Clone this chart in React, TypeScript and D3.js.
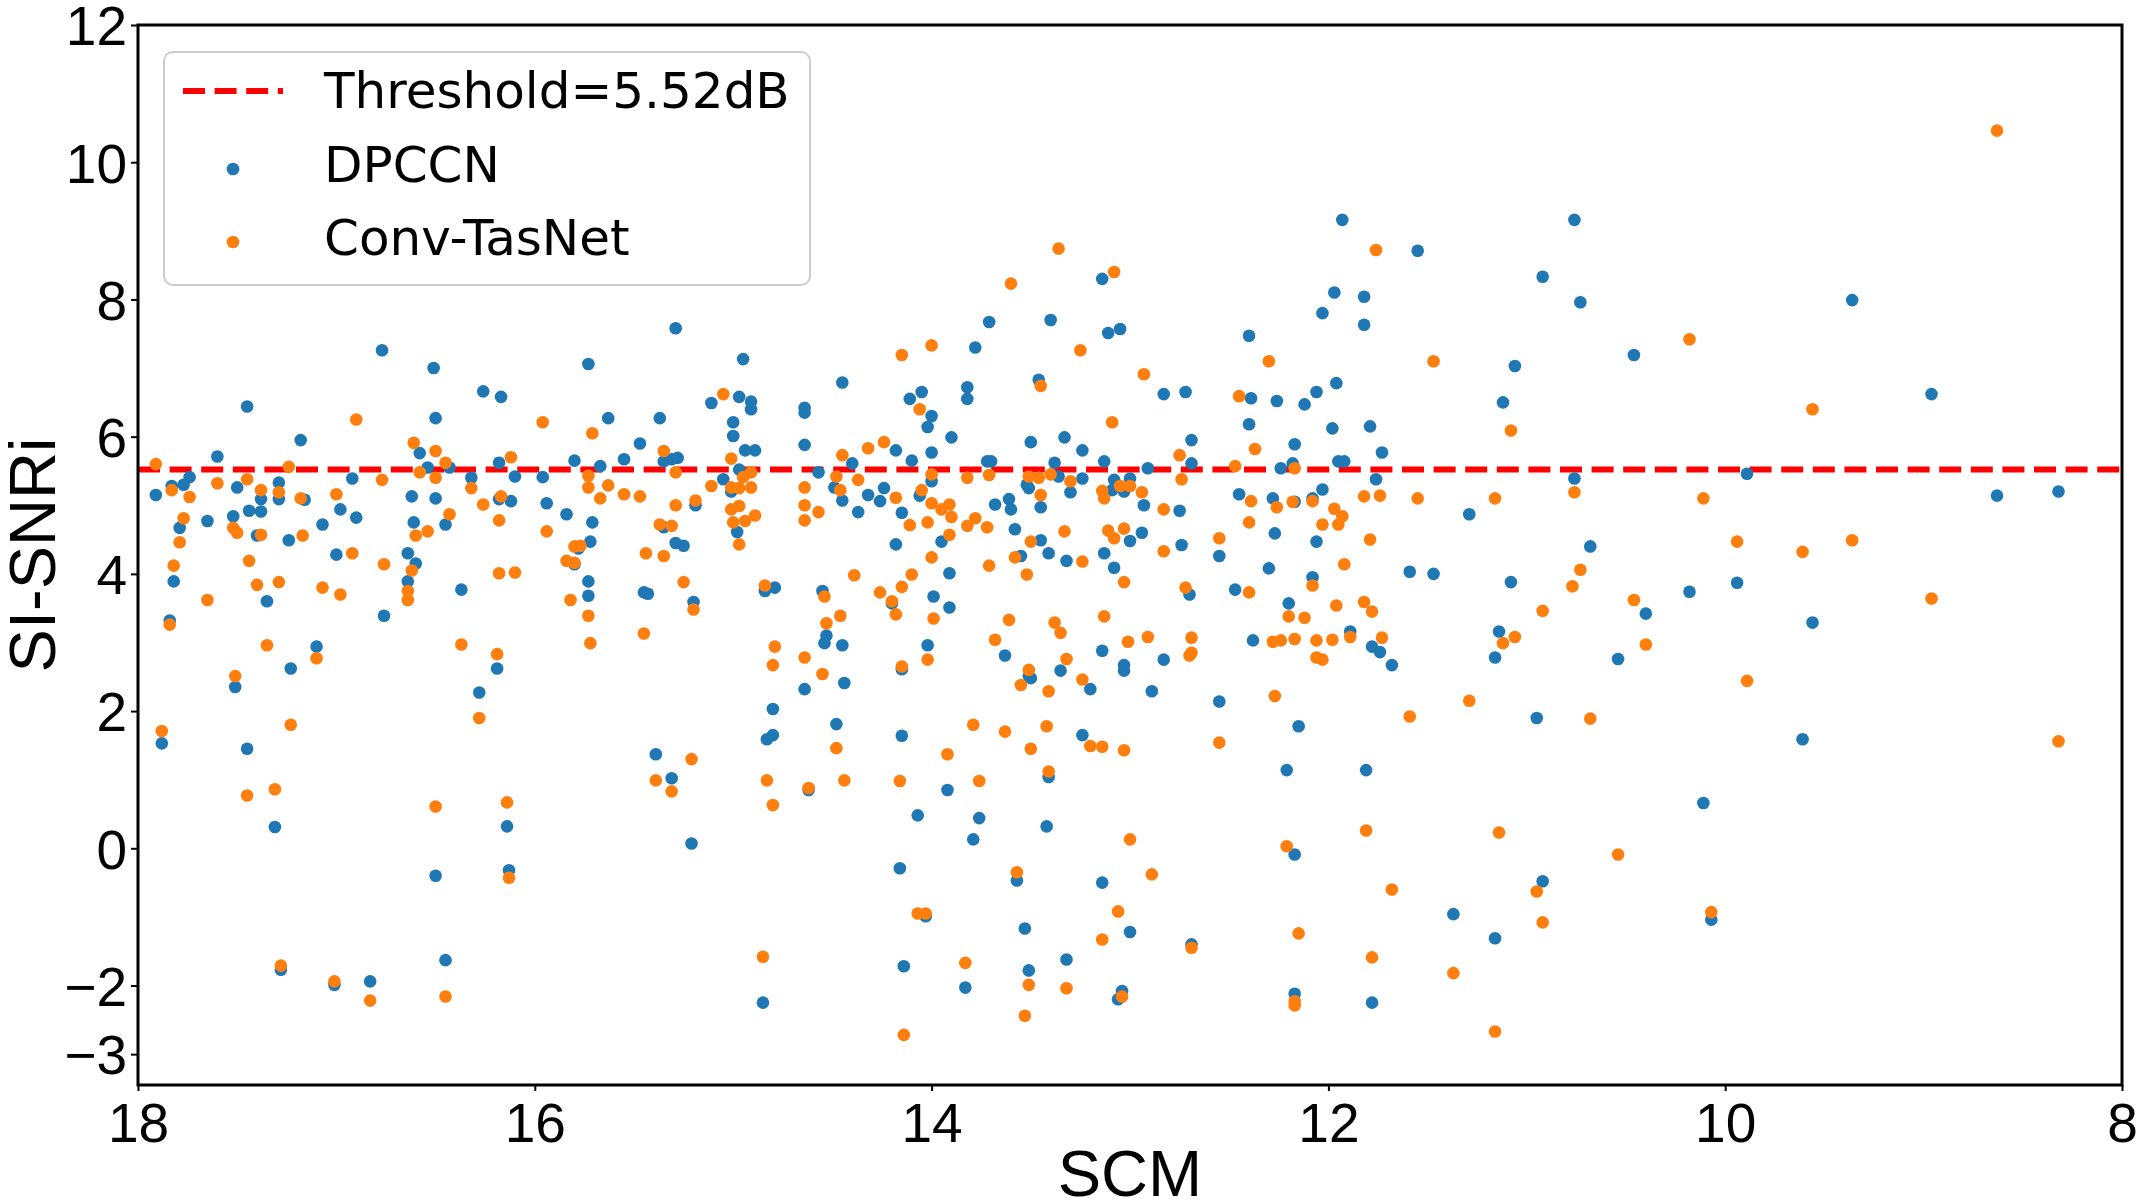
import React, { FC, useEffect, useRef } from "react";
import * as d3 from "d3";

// axis setup
const xTicks = [18, 16, 14, 12, 10, 8];
const yTicks = [-3, -2, 0, 2, 4, 6, 8, 10, 12];
const threshold = 5.52;

// [SCM, SI-SNRi]
const dpccnPoints: [number, number][] = [
    [17.82, 3.89], [16.64, 3.89], [15.73, 3.89], [16.77, 7.26], [16.51, 7.0], [17.45, 6.44],
    [16.26, 6.66], [16.17, 6.58], [15.73, 7.06], [16.5, 6.27], [15.63, 6.27], [17.18, 5.95],
    [17.6, 5.71], [16.58, 5.76], [16.54, 5.55], [16.43, 5.55], [16.18, 5.62], [15.8, 5.65],
    [15.67, 5.57], [15.55, 5.67], [17.91, 5.15], [17.83, 5.28], [17.77, 5.3], [17.74, 5.41],
    [17.5, 5.26], [17.29, 5.33], [17.38, 5.09], [17.29, 5.09], [17.16, 5.08], [16.92, 5.39],
    [17.44, 4.92], [17.38, 4.91], [17.52, 4.84], [17.65, 4.77], [17.79, 4.67], [17.4, 4.56],
    [17.24, 4.49], [17.07, 4.72], [16.98, 4.94], [16.9, 4.82], [17.0, 4.28], [16.64, 4.3],
    [16.6, 4.15], [16.62, 5.13], [16.5, 5.1], [16.61, 4.75], [16.45, 4.72], [16.32, 5.4],
    [16.1, 5.42], [16.18, 5.09], [16.12, 5.06], [15.96, 5.41], [15.94, 5.03], [15.84, 4.87],
    [15.71, 4.75], [15.72, 4.47], [15.78, 4.37], [15.8, 4.14],
    [17.35, 3.6], [16.37, 3.77], [15.73, 3.68], [17.84, 3.32], [16.76, 3.39], [17.1, 2.94],
    [17.23, 2.62], [17.51, 2.35], [16.19, 2.62], [16.28, 2.27], [17.88, 1.53], [17.45, 1.45],
    [17.31, 0.31], [16.14, 0.32], [16.5, -0.4], [16.13, -0.32], [17.28, -1.77], [17.01, -1.99],
    [16.83, -1.94], [16.45, -1.63],
    [15.29, 7.58], [14.95, 7.13], [15.37, 6.27], [15.47, 5.9], [15.11, 6.49], [14.97, 6.58],
    [14.91, 6.51], [14.91, 6.4], [15.0, 6.21], [15.0, 6.01], [14.94, 5.8], [14.89, 5.8],
    [15.35, 5.64], [15.31, 5.67], [15.28, 5.69], [14.97, 5.52], [15.05, 5.38], [15.01, 5.2],
    [15.19, 5.0], [15.35, 4.68], [15.29, 4.45], [15.25, 4.41], [14.98, 4.61], [14.64, 6.42],
    [14.64, 6.35], [14.64, 5.88], [14.57, 5.48], [14.45, 6.79], [14.4, 5.61], [14.49, 5.26],
    [14.45, 5.07], [14.37, 4.9], [14.32, 5.15], [14.26, 5.06], [14.24, 5.25], [14.18, 5.8],
    [14.1, 5.65], [14.11, 6.55], [14.05, 6.65], [14.0, 6.3], [14.02, 6.14], [14.0, 5.77],
    [14.0, 5.35], [14.06, 5.14], [14.15, 4.89], [14.18, 4.43], [13.9, 5.99], [13.95, 4.47],
    [13.91, 4.01], [13.82, 6.72], [13.82, 6.55], [13.78, 7.3], [13.71, 7.67], [13.72, 5.64],
    [13.7, 5.64], [13.68, 5.01], [13.61, 5.09], [13.6, 4.94], [13.58, 4.65], [13.55, 4.26],
    [13.5, 5.92], [13.52, 5.3], [13.51, 5.25], [13.46, 6.83], [13.45, 4.97], [13.45, 4.49],
    [13.41, 4.3], [13.4, 7.7], [13.38, 5.62], [13.36, 5.42], [13.33, 5.99], [13.3, 5.19],
    [13.32, 4.19], [13.24, 5.8], [13.24, 5.39], [13.14, 8.3], [13.11, 7.51], [13.05, 7.57],
    [13.13, 5.64], [13.08, 5.37], [13.09, 5.22], [13.03, 5.2], [13.13, 4.3], [13.08, 4.09],
    [13.0, 5.39], [13.0, 4.48],
    [15.45, 3.73], [15.43, 3.71], [15.2, 3.59], [14.84, 3.75], [14.79, 3.8], [14.55, 3.75],
    [14.53, 3.1], [14.54, 2.99], [14.45, 2.96], [14.44, 2.41], [14.64, 2.32], [14.2, 3.57],
    [13.99, 3.67], [13.91, 3.51], [14.02, 2.96], [14.15, 2.61], [14.8, 2.03], [14.8, 1.65],
    [14.83, 1.59], [14.48, 1.81], [14.15, 1.64], [15.39, 1.37], [15.31, 1.02], [14.62, 0.85],
    [15.21, 0.07], [13.92, 0.85], [14.07, 0.48], [13.76, 0.44], [13.79, 0.13], [14.16, -0.29],
    [14.03, -0.99], [13.63, 2.81], [13.51, 2.51], [13.5, 2.48], [13.35, 2.59], [13.2, 2.32],
    [13.14, 2.88], [13.03, 2.67], [13.03, 2.59], [13.24, 1.65], [13.41, 1.04], [13.42, 0.32],
    [13.57, -0.47], [13.14, -0.5], [13.53, -1.17], [13.0, -1.22], [14.85, -2.25], [14.14, -1.72],
    [13.83, -2.03], [13.51, -1.78], [13.32, -1.62], [13.04, -2.08], [13.06, -2.2],
    [11.93, 9.16], [11.55, 8.71], [11.97, 8.1], [12.03, 7.8], [11.82, 8.04], [11.82, 7.63],
    [12.4, 7.47], [12.83, 6.62], [12.72, 6.65], [12.39, 6.56], [12.26, 6.52], [12.12, 6.47],
    [12.06, 6.65], [11.96, 6.78], [12.4, 6.18], [11.98, 6.12], [11.79, 6.15], [12.69, 5.95],
    [12.17, 5.89], [11.73, 5.77], [12.69, 5.61], [12.91, 5.54], [12.24, 5.54], [12.18, 5.61],
    [11.95, 5.64], [11.92, 5.64], [11.76, 5.38], [12.93, 5.0], [12.94, 4.6], [12.75, 4.92],
    [12.74, 4.42], [12.55, 4.26], [12.45, 5.16], [12.28, 5.1], [12.17, 5.05], [12.08, 5.1],
    [12.03, 5.23], [12.27, 4.59], [12.06, 4.47], [12.3, 4.08], [12.08, 3.95], [11.59, 4.03],
    [11.47, 4.0], [11.29, 4.87], [11.12, 6.5], [11.06, 7.03], [10.92, 8.33], [10.76, 9.16],
    [10.73, 7.96], [10.76, 5.39], [10.68, 4.4], [11.08, 3.88], [10.46, 7.19],
    [12.7, 3.7], [12.47, 3.77], [12.2, 3.57], [12.38, 3.03], [12.83, 2.75], [12.89, 2.29],
    [12.55, 2.14], [12.15, 1.78], [11.89, 3.16], [11.78, 2.94], [11.74, 2.86], [11.68, 2.67],
    [12.21, 1.14], [11.81, 1.14], [12.17, -0.09], [11.14, 3.16], [11.16, 2.78], [10.54, 2.76],
    [10.95, 1.9], [12.69, -1.4], [11.37, -0.96], [11.16, -1.31], [10.92, -0.48], [12.17, -2.12],
    [11.78, -2.25],
    [9.36, 7.99], [8.96, 6.62], [9.89, 5.46], [8.63, 5.14], [8.32, 5.2], [9.94, 3.87],
    [10.18, 3.74], [10.4, 3.42], [9.56, 3.29], [9.61, 1.59], [10.11, 0.66], [10.07, -1.04],
];

const convTasNetPoints: [number, number][] = [
    [17.91, 5.6], [17.83, 5.22], [17.74, 5.12], [17.77, 4.81], [17.79, 4.46], [17.82, 4.12],
    [17.6, 5.32], [17.52, 4.67], [17.5, 4.6], [17.45, 5.38], [17.38, 5.22], [17.29, 5.19],
    [17.24, 5.56], [17.18, 5.1], [17.38, 4.57], [17.17, 4.56], [17.44, 4.19], [17.4, 3.84],
    [17.29, 3.88], [17.0, 5.16], [16.9, 6.25], [16.77, 5.37], [16.92, 4.3], [16.76, 4.14],
    [16.61, 5.91], [16.5, 5.79], [16.45, 5.62], [16.58, 5.48], [16.5, 5.4], [16.43, 4.87],
    [16.6, 4.56], [16.54, 4.62], [16.62, 4.05], [16.32, 5.25], [16.26, 5.01], [16.12, 5.7],
    [16.17, 5.13], [16.18, 4.78], [16.18, 4.01], [16.1, 4.02], [15.96, 6.21], [15.94, 4.62],
    [15.71, 6.05], [15.73, 5.43], [15.73, 5.26], [15.63, 5.29], [15.67, 5.1], [15.55, 5.16],
    [15.8, 4.4], [15.77, 4.41], [15.84, 4.19], [15.8, 4.16],
    [17.65, 3.62], [17.07, 3.8], [16.98, 3.7], [16.64, 3.75], [16.64, 3.62], [15.82, 3.62],
    [15.73, 3.39], [15.72, 2.99], [17.84, 3.26], [17.35, 2.96], [17.1, 2.77], [16.37, 2.97],
    [16.19, 2.83], [17.51, 2.51], [16.28, 1.9], [17.88, 1.71], [17.23, 1.8], [17.45, 0.77],
    [17.31, 0.86], [16.5, 0.61], [16.14, 0.67], [16.13, -0.43], [17.28, -1.71], [17.01, -1.94],
    [16.83, -2.22], [16.45, -2.16],
    [15.47, 5.13], [15.35, 5.79], [15.29, 5.48], [15.29, 5.0], [15.19, 5.07], [15.37, 4.72],
    [15.31, 4.7], [15.44, 4.3], [15.35, 4.26], [15.25, 3.88], [15.11, 5.28], [15.05, 6.62],
    [15.01, 5.68], [15.01, 5.26], [14.97, 5.25], [14.95, 5.41], [14.91, 5.48], [14.91, 5.26],
    [15.01, 4.94], [14.97, 4.99], [15.0, 4.75], [14.94, 4.77], [14.89, 4.85], [14.97, 4.43],
    [14.84, 3.83], [14.64, 5.26], [14.64, 5.0], [14.57, 4.9], [14.64, 4.78], [14.48, 5.42],
    [14.45, 5.73], [14.46, 5.22], [14.37, 5.37], [14.32, 5.83], [14.24, 5.92], [14.39, 3.98],
    [14.18, 5.11], [14.15, 7.19], [14.06, 6.4], [14.0, 7.33], [14.0, 5.45], [14.05, 5.22],
    [14.0, 5.03], [13.95, 4.94], [13.91, 5.01], [13.9, 4.83], [13.91, 4.57], [14.02, 4.75],
    [14.11, 4.71], [14.0, 4.24], [14.1, 3.99], [13.82, 5.4], [13.71, 5.44], [13.78, 4.81],
    [13.82, 4.7], [13.72, 4.68], [13.71, 4.12], [13.6, 8.23], [13.58, 4.24], [13.52, 3.99],
    [13.51, 5.42], [13.46, 5.4], [13.45, 6.74], [13.45, 5.15], [13.5, 4.47], [13.4, 5.45],
    [13.36, 8.74], [13.3, 5.35], [13.33, 4.62], [13.25, 7.26], [13.24, 4.18], [13.08, 8.4],
    [13.09, 6.21], [13.14, 5.21], [13.13, 5.1], [13.05, 5.28], [13.0, 5.28], [13.11, 4.63],
    [13.08, 4.52], [13.03, 4.66], [13.03, 3.88],
    [15.2, 3.48], [15.45, 3.13], [14.54, 3.67], [14.53, 3.28], [14.46, 3.39], [14.79, 2.94],
    [14.8, 2.67], [14.64, 2.78], [14.55, 2.54], [14.26, 3.73], [14.2, 3.6], [14.18, 3.41],
    [14.15, 3.81], [13.99, 3.35], [14.02, 2.75], [14.15, 2.65], [14.48, 1.46], [15.21, 1.3],
    [15.39, 0.99], [15.31, 0.83], [14.83, 0.99], [14.8, 0.63], [14.62, 0.88], [14.44, 0.99],
    [14.16, 0.98], [13.92, 1.37], [13.79, 1.8], [13.76, 0.98], [13.61, 3.33], [13.68, 3.04],
    [13.51, 2.6], [13.55, 2.38], [13.63, 1.7], [13.5, 1.45], [13.41, 2.29], [13.42, 1.78],
    [13.41, 1.12], [13.38, 3.29], [13.35, 3.14], [13.32, 2.76], [13.24, 2.46], [13.2, 1.49],
    [13.14, 1.48], [13.03, 1.43], [13.13, 3.38], [13.01, 3.01], [13.0, 0.13], [13.57, -0.35],
    [14.07, -0.95], [14.03, -0.95], [13.06, -0.92], [13.14, -1.33], [14.85, -1.58], [13.83, -1.67],
    [13.51, -1.99], [13.32, -2.04], [13.04, -2.16], [13.53, -2.44], [14.14, -2.72],
    [12.93, 6.91], [12.94, 5.19], [12.83, 4.94], [12.83, 4.33], [12.75, 5.73], [12.74, 5.38],
    [12.55, 4.52], [12.47, 5.57], [12.45, 6.59], [12.37, 5.82], [12.39, 5.06], [12.4, 4.75],
    [12.3, 7.1], [12.26, 4.97], [12.18, 5.05], [12.17, 5.54], [12.08, 5.06], [12.08, 3.83],
    [11.97, 4.95], [11.93, 4.84], [11.95, 4.72], [12.03, 4.72], [11.92, 4.14], [11.82, 5.13],
    [11.74, 5.14], [11.79, 4.5], [11.76, 8.72], [11.55, 5.1], [11.47, 7.1], [11.16, 5.1],
    [11.08, 6.09], [10.76, 5.19], [10.73, 4.06], [10.77, 3.82],
    [12.72, 3.8], [12.4, 3.73], [12.2, 3.38], [12.12, 3.36], [11.96, 3.54], [11.82, 3.59],
    [11.78, 3.45], [12.91, 3.08], [12.69, 3.07], [12.69, 2.85], [12.7, 2.81], [12.28, 3.01],
    [12.24, 3.03], [12.17, 3.05], [12.06, 3.03], [11.98, 3.04], [11.89, 3.08], [11.73, 3.07],
    [12.06, 2.78], [12.03, 2.75], [12.27, 2.22], [12.55, 1.54], [11.59, 1.92], [11.29, 2.15],
    [11.12, 2.99], [11.06, 3.08], [10.92, 3.46], [10.46, 3.62], [10.68, 1.89], [11.81, 0.26],
    [11.14, 0.23], [12.21, 0.03], [12.89, -0.38], [11.68, -0.6], [10.95, -0.63], [10.54, -0.09],
    [10.92, -1.08], [12.15, -1.24], [12.69, -1.45], [11.78, -1.59], [11.37, -1.82], [12.17, -2.23],
    [12.17, -2.29], [11.16, -2.67],
    [8.63, 10.46], [10.18, 7.42], [9.56, 6.4], [10.11, 5.1], [9.94, 4.47], [9.61, 4.32],
    [9.36, 4.49], [10.4, 2.97], [9.89, 2.44], [8.96, 3.64], [8.32, 1.56], [10.07, -0.93],
];

const AXIS_FONT = "'Liberation Sans', Arial, sans-serif";
const LEGEND_FONT = "'DejaVu Sans', sans-serif";

export const SCMScatter: FC = () => {
    const svgRef = useRef<SVGSVGElement>(null);

    useEffect(() => {
        if (!svgRef.current) return;

        // Clear previous content
        d3.select(svgRef.current).selectAll("*").remove();

        const W = 2143;
        const H = 1204;
        const left = 138, right = 2122, top = 25, bottom = 1085;

        const svg = d3.select(svgRef.current)
            .attr("width", W)
            .attr("height", H);

        svg.append("rect")
            .attr("width", W)
            .attr("height", H)
            .attr("fill", "#ffffff");

        // Scales (SCM axis is reversed)
        const x = d3.scaleLinear().domain([18, 8]).range([left, right]);
        const y = d3.scaleLinear().domain([-3.45, 12]).range([bottom, top]);

        const fmt = (d: d3.NumberValue) => {
            const v = +d;
            return v < 0 ? `\u2212${-v}` : `${v}`;
        };

        // x-axis
        const gx = svg.append("g")
            .attr("transform", `translate(0,${bottom})`)
            .call(d3.axisBottom(x).tickValues(xTicks).tickSize(6).tickSizeOuter(0).tickPadding(12).tickFormat(fmt));
        gx.select(".domain").remove();
        gx.selectAll("line").attr("stroke", "#000").attr("stroke-width", 2);
        gx.selectAll("text")
            .attr("fill", "#000")
            .style("font-family", AXIS_FONT)
            .style("font-size", "55px");

        // y-axis
        const gy = svg.append("g")
            .attr("transform", `translate(${left},0)`)
            .call(d3.axisLeft(y).tickValues(yTicks).tickSize(7).tickSizeOuter(0).tickPadding(4).tickFormat(fmt));
        gy.select(".domain").remove();
        gy.selectAll("line").attr("stroke", "#000").attr("stroke-width", 2);
        gy.selectAll("text")
            .attr("fill", "#000")
            .attr("dy", "0.36em")
            .style("font-family", AXIS_FONT)
            .style("font-size", "55px");

        // threshold line
        svg.append("line")
            .attr("x1", left)
            .attr("x2", right)
            .attr("y1", y(threshold))
            .attr("y2", y(threshold))
            .attr("stroke", "#ff0000")
            .attr("stroke-width", 6)
            .attr("stroke-dasharray", "22,9.6");

        // scatter points
        svg.append("g")
            .selectAll("circle")
            .data(dpccnPoints)
            .enter()
            .append("circle")
            .attr("cx", d => x(d[0]))
            .attr("cy", d => y(d[1]))
            .attr("r", 6.3)
            .attr("fill", "#1f77b4");

        svg.append("g")
            .selectAll("circle")
            .data(convTasNetPoints)
            .enter()
            .append("circle")
            .attr("cx", d => x(d[0]))
            .attr("cy", d => y(d[1]))
            .attr("r", 6.3)
            .attr("fill", "#ff7f0e");

        // frame
        svg.append("rect")
            .attr("x", left)
            .attr("y", top)
            .attr("width", right - left)
            .attr("height", bottom - top)
            .attr("fill", "none")
            .attr("stroke", "#000")
            .attr("stroke-width", 3);

        // axis labels
        svg.append("text")
            .attr("x", (left + right) / 2)
            .attr("y", 1196)
            .attr("text-anchor", "middle")
            .style("font-family", AXIS_FONT)
            .style("font-size", "65px")
            .text("SCM");

        svg.append("text")
            .attr("transform", `translate(55,${(top + bottom) / 2}) rotate(-90)`)
            .attr("text-anchor", "middle")
            .style("font-family", AXIS_FONT)
            .style("font-size", "65px")
            .text("SI-SNRi");

        // legend
        const lg = svg.append("g");
        lg.append("rect")
            .attr("x", 164)
            .attr("y", 52)
            .attr("width", 646)
            .attr("height", 233)
            .attr("rx", 9)
            .attr("fill", "#ffffff")
            .attr("fill-opacity", 0.8)
            .attr("stroke", "#cccccc")
            .attr("stroke-width", 2);
        lg.append("line")
            .attr("x1", 183)
            .attr("x2", 283)
            .attr("y1", 91)
            .attr("y2", 91)
            .attr("stroke", "#ff0000")
            .attr("stroke-width", 6)
            .attr("stroke-dasharray", "22,9.6");
        lg.append("circle").attr("cx", 233).attr("cy", 169).attr("r", 6.3).attr("fill", "#1f77b4");
        lg.append("circle").attr("cx", 233).attr("cy", 242).attr("r", 6.3).attr("fill", "#ff7f0e");

        const entries = [
            { label: `Threshold=${threshold}dB`, y: 108 },
            { label: "DPCCN", y: 182 },
            { label: "Conv-TasNet", y: 255 },
        ];
        lg.selectAll(".legend-label")
            .data(entries)
            .enter()
            .append("text")
            .attr("class", "legend-label")
            .attr("x", 324)
            .attr("y", d => d.y)
            .style("font-family", LEGEND_FONT)
            .style("font-size", "50px")
            .text(d => d.label);
    }, []);

    return <svg ref={svgRef} style={{ position: "absolute", left: 0, top: 0 }}></svg>;
};

export default function App() {
    return <SCMScatter />;
}
